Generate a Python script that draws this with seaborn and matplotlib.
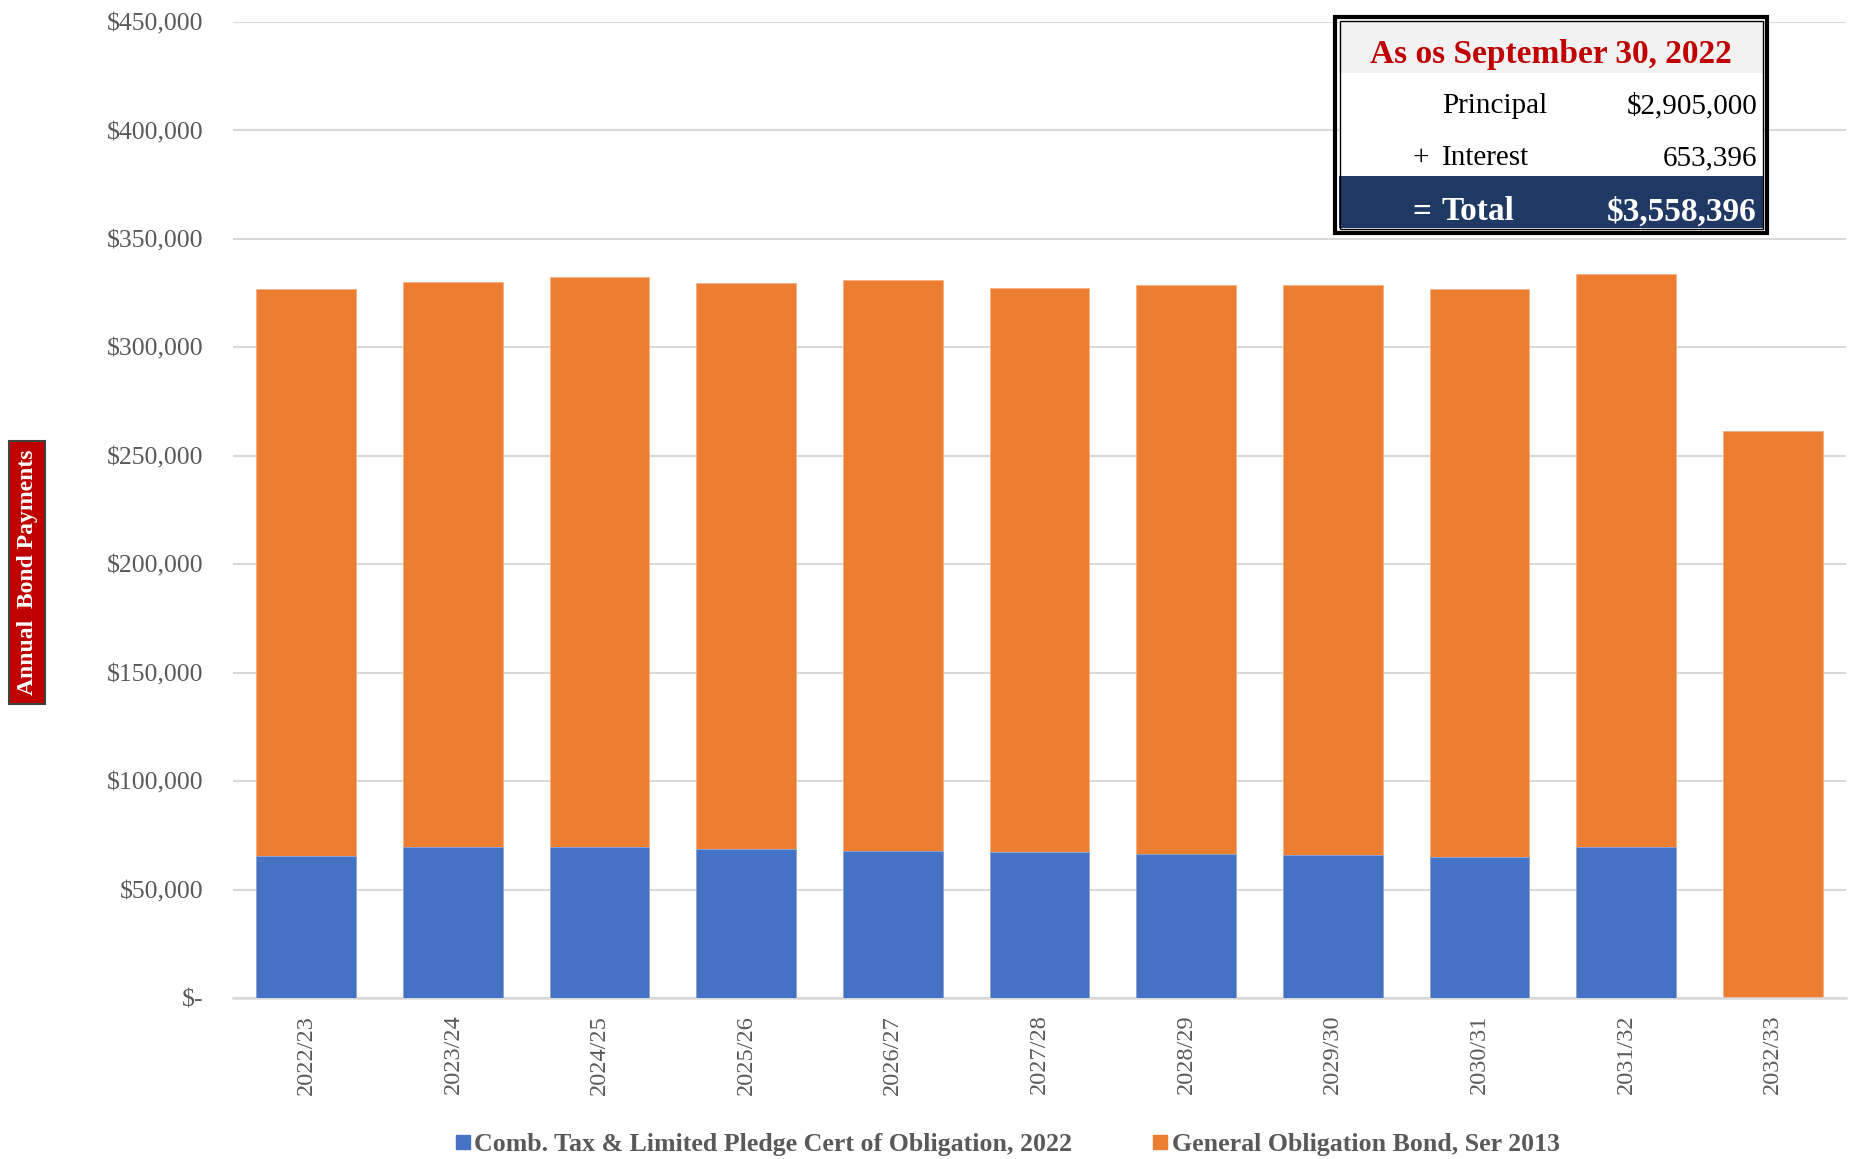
import matplotlib
matplotlib.use("Agg")
import matplotlib.pyplot as plt
from matplotlib.patches import Rectangle
from matplotlib.lines import Line2D
from matplotlib.ticker import FuncFormatter, MultipleLocator
import seaborn as sns
import pandas as pd
import numpy as np

# Fiscal years
years = ["2022/23", "2023/24", "2024/25", "2025/26", "2026/27", "2027/28",
         "2028/29", "2029/30", "2030/31", "2031/32", "2032/33"]

# Annual debt service per issue
cert_2022 = [65400, 69600, 69600, 68900, 68000, 67400, 66600, 65900, 65200, 69600, 0]
go_2013 = [261330, 260640, 262810, 260600, 262890, 259930, 262120, 262820, 261530, 264200, 261310]

series_names = ["Comb. Tax & Limited Pledge Cert of Obligation, 2022",
                "General Obligation Bond, Ser 2013"]

# Summary box
summary_title = "As os September 30, 2022"
summary_rows = [("Principal", "$2,905,000"), ("+ Interest", "653,396"), ("= Total", "$3,558,396")]

BLUE = "#4472C4"
ORANGE = "#ED7D31"
GREY_TXT = "#595959"
GRID = "#D9D9D9"
RED = "#C00000"
NAVY = "#203864"

sns.set_theme(style="white")
plt.rcParams["font.family"] = ["Liberation Serif", "DejaVu Serif"]

W, H = 1853, 1159
fig = plt.figure(figsize=(W / 100, H / 100), dpi=100)


def fx(px):
    return px / W


def fy(py):
    return 1 - py / H


ax = fig.add_axes([fx(233), fy(998), fx(1846) - fx(233), fy(22) - fy(998)])

df = pd.DataFrame({"year": years, "cert": cert_2022, "go": go_2013})
df["total"] = df["cert"] + df["go"]

# Stacked bars: full height in orange, lower segment in blue
sns.barplot(data=df, x="year", y="total", color=ORANGE, width=0.68,
            saturation=1, ax=ax, zorder=2, edgecolor="#F4B183", linewidth=0.6)
sns.barplot(data=df, x="year", y="cert", color=BLUE, width=0.68,
            saturation=1, ax=ax, zorder=3, edgecolor="#8FAADC", linewidth=0.6)

ax.set_xlim(-0.5, len(years) - 0.5)
ax.set_ylim(0, 450000)
ax.yaxis.set_major_locator(MultipleLocator(50000))
ax.yaxis.set_major_formatter(FuncFormatter(lambda v, p: "$-" if v == 0 else f"${v:,.0f}"))
ax.grid(axis="y", color=GRID, linewidth=1.5, zorder=0)
ax.set_axisbelow(True)
for s in ["top", "right", "left"]:
    ax.spines[s].set_visible(False)
ax.spines["bottom"].set_color(GRID)
ax.spines["bottom"].set_linewidth(1.8)
ax.set_xlabel("")
ax.set_ylabel("")
ax.tick_params(axis="y", length=0, pad=21, labelsize=18.5, labelcolor=GREY_TXT)
ax.tick_params(axis="x", length=0, pad=12, labelsize=17.5, labelcolor=GREY_TXT)
for lab in ax.get_xticklabels():
    lab.set_rotation(90)
    lab.set_va("top")
    lab.set_ha("center")

# Vertical axis title box
fig.add_artist(Rectangle((fx(9), fy(704)), fx(45) - fx(9), fy(441) - fy(704),
                         transform=fig.transFigure, facecolor=RED,
                         edgecolor="#404040", linewidth=1.5, zorder=5))
fig.text(fx(28), fy(572), "Annual  Bond Payments", rotation=90, color="white",
         fontsize=17, fontweight="bold", ha="center", va="center", zorder=6)

# Legend
handles = [Line2D([], [], marker="s", linestyle="", color=BLUE, markersize=10),
           Line2D([], [], marker="s", linestyle="", color=ORANGE, markersize=10)]
fig.legend(handles, series_names, loc="center", bbox_to_anchor=(fx(1006), fy(1144)),
           ncol=2, frameon=False, handletextpad=0.05, columnspacing=3.0,
           prop={"size": 18.6, "weight": "bold"}, labelcolor=GREY_TXT,
           handlelength=0.8)

# Summary box
fig.add_artist(Rectangle((fx(1339), fy(229)), fx(1763) - fx(1339), fy(21) - fy(229),
                         transform=fig.transFigure, facecolor="white",
                         edgecolor="none", zorder=4))
fig.add_artist(Rectangle((fx(1339), fy(73)), fx(1763) - fx(1339), fy(21) - fy(73),
                         transform=fig.transFigure, facecolor="#F2F2F2",
                         edgecolor="none", zorder=4))
fig.add_artist(Rectangle((fx(1339), fy(228)), fx(1763) - fx(1339), fy(176) - fy(228),
                         transform=fig.transFigure, facecolor=NAVY,
                         edgecolor="none", zorder=4))
fig.add_artist(Rectangle((fx(1335), fy(233)), fx(1767) - fx(1335), fy(17) - fy(233),
                         transform=fig.transFigure, facecolor="none",
                         edgecolor="black", linewidth=3, zorder=5))
fig.add_artist(Rectangle((fx(1339.5), fy(228.5)), fx(1762.5) - fx(1339.5), fy(21.5) - fy(228.5),
                         transform=fig.transFigure, facecolor="none",
                         edgecolor="black", linewidth=1, zorder=5))

fig.text(fx(1551), fy(55), summary_title, color=RED, fontsize=24, fontweight="bold",
         ha="center", va="center", zorder=6)
row_y = [106, 158, 212]
for (label, value), yy in zip(summary_rows, row_y):
    is_total = label.startswith("=")
    col = "white" if is_total else "black"
    wt = "bold" if is_total else "normal"
    fsz = 24 if is_total else 21
    sym, word = label.split(" ", 1) if label[0] in "+=" else ("", label)
    if sym:
        fig.text(fx(1412), fy(yy), sym, color=col, fontsize=fsz, fontweight=wt,
                 ha="left", va="center", zorder=6)
    fig.text(fx(1442), fy(yy), word, color=col, fontsize=fsz, fontweight=wt,
             ha="left", va="center", zorder=6)
    fig.text(fx(1757), fy(yy), value, color=col, fontsize=fsz, fontweight=wt,
             ha="right", va="center", zorder=6)

fig.savefig("out.png", dpi=100, facecolor="white")
